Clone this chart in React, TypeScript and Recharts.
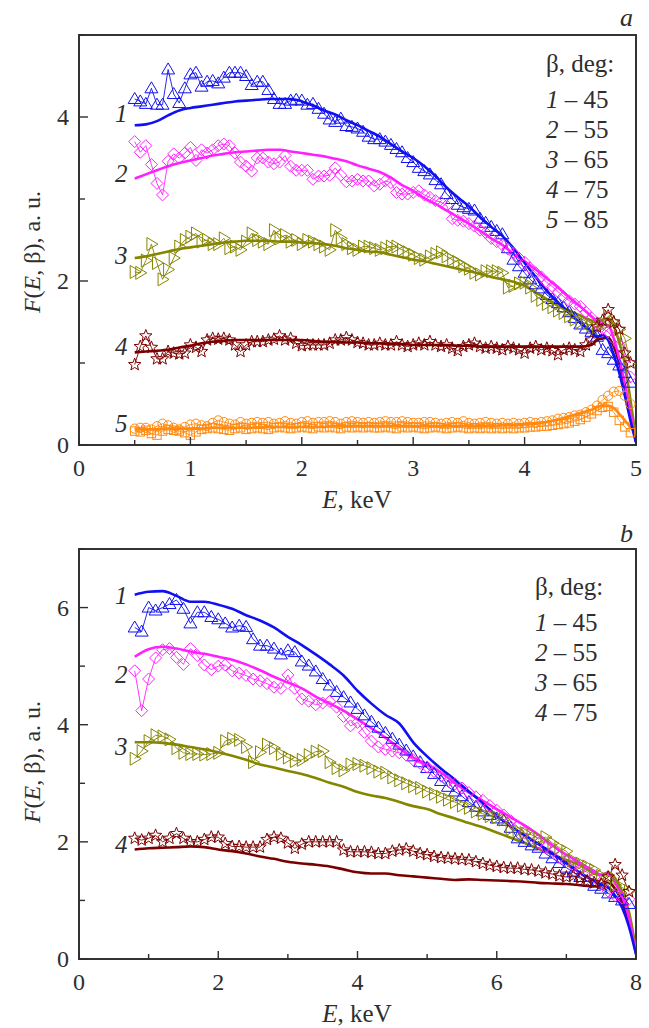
import React from 'react';
import { LineChart, Line, XAxis, YAxis, ReferenceArea } from 'recharts';

const FONT = '"Liberation Serif", "Times New Roman", serif';
const INK = '#2e2e2e';

// ---------- Panel a (E up to 5 keV) ----------
const E_A = [0.5,0.55,0.6,0.65,0.7,0.75,0.8,0.85,0.9,0.95,1.0,1.05,1.1,1.15,1.2,1.25,1.3,1.35,1.4,1.45,1.5,1.55,1.6,1.65,1.7,1.75,1.8,1.85,1.9,1.95,2.0,2.05,2.1,2.15,2.2,2.25,2.3,2.35,2.4,2.45,2.5,2.55,2.6,2.65,2.7,2.75,2.8,2.85,2.9,2.95,3.0,3.05,3.1,3.15,3.2,3.25,3.3,3.35,3.4,3.45,3.5,3.55,3.6,3.65,3.7,3.75,3.8,3.85,3.9,3.95,4.0,4.05,4.1,4.15,4.2,4.25,4.3,4.35,4.4,4.45,4.5,4.55,4.6,4.65,4.7,4.75,4.8,4.85,4.9,4.95];

const A1_MEAS = [4.22,4.19,4.16,4.35,4.15,4.15,4.58,4.28,4.17,4.35,4.52,4.54,4.37,4.43,4.44,4.41,4.48,4.54,4.54,4.54,4.50,4.39,4.43,4.43,4.33,4.22,4.16,4.16,4.20,4.21,4.20,4.15,4.16,4.10,4.04,3.97,3.94,3.98,3.89,3.88,3.86,3.82,3.76,3.73,3.73,3.70,3.66,3.61,3.57,3.50,3.45,3.38,3.34,3.30,3.23,3.18,3.06,3.00,2.93,2.90,2.88,2.86,2.76,2.71,2.66,2.61,2.57,2.40,2.26,2.18,2.10,2.02,1.96,1.91,1.83,1.78,1.73,1.68,1.62,1.55,1.47,1.42,1.38,1.32,1.16,1.12,1.04,0.97,0.88,0.76];
const A2_MEAS = [3.70,3.57,3.65,3.42,3.19,3.05,3.46,3.55,3.50,3.56,3.63,3.47,3.60,3.56,3.60,3.65,3.67,3.65,3.56,3.45,3.40,3.34,3.50,3.50,3.45,3.43,3.45,3.53,3.40,3.35,3.35,3.35,3.24,3.28,3.28,3.29,3.38,3.29,3.21,3.22,3.24,3.22,3.22,3.16,3.18,3.22,3.20,3.08,3.06,3.06,3.08,3.10,3.05,3.02,2.98,2.96,2.92,2.76,2.74,2.73,2.70,2.67,2.62,2.59,2.52,2.48,2.44,2.39,2.34,2.28,2.23,2.16,2.10,2.05,1.98,1.93,1.87,1.81,1.76,1.72,1.69,1.62,1.55,1.49,1.42,1.38,1.30,1.22,1.04,0.83];
const A3_MEAS = [2.11,2.10,2.25,2.45,2.22,2.02,2.14,2.28,2.42,2.50,2.54,2.58,2.48,2.50,2.45,2.45,2.52,2.40,2.42,2.38,2.48,2.58,2.50,2.48,2.45,2.62,2.52,2.56,2.48,2.50,2.45,2.50,2.48,2.45,2.42,2.38,2.62,2.52,2.45,2.40,2.38,2.42,2.42,2.40,2.38,2.40,2.42,2.42,2.38,2.35,2.32,2.28,2.26,2.30,2.33,2.35,2.30,2.26,2.23,2.18,2.15,2.10,2.08,2.12,2.12,2.12,2.10,1.92,1.94,1.97,1.98,1.92,1.82,1.77,1.72,1.68,1.64,1.61,1.57,1.53,1.50,1.48,1.46,1.44,1.46,1.57,1.50,1.41,1.30,1.00];
const A4_MEAS = [0.98,1.20,1.33,1.19,1.05,1.05,1.14,1.12,1.11,1.12,1.22,1.19,1.14,1.28,1.30,1.29,1.30,1.28,1.22,1.14,1.22,1.26,1.26,1.26,1.28,1.29,1.33,1.28,1.30,1.24,1.21,1.22,1.22,1.22,1.22,1.24,1.28,1.28,1.31,1.28,1.25,1.24,1.22,1.22,1.24,1.22,1.22,1.26,1.22,1.20,1.22,1.24,1.22,1.26,1.22,1.20,1.22,1.18,1.15,1.20,1.22,1.24,1.20,1.18,1.20,1.18,1.16,1.20,1.18,1.16,1.12,1.18,1.20,1.16,1.18,1.15,1.10,1.16,1.18,1.16,1.14,1.22,1.28,1.44,1.52,1.65,1.50,1.41,1.12,1.00];
const A5_MEAS_CIRCLES = [0.20,0.21,0.21,0.19,0.23,0.26,0.24,0.21,0.19,0.22,0.25,0.26,0.24,0.23,0.27,0.30,0.28,0.26,0.25,0.28,0.26,0.27,0.28,0.27,0.28,0.26,0.27,0.29,0.27,0.26,0.28,0.29,0.27,0.28,0.28,0.29,0.28,0.26,0.28,0.29,0.28,0.27,0.28,0.27,0.28,0.29,0.28,0.28,0.29,0.28,0.27,0.27,0.28,0.28,0.27,0.26,0.27,0.28,0.27,0.29,0.27,0.26,0.27,0.28,0.27,0.26,0.27,0.26,0.27,0.26,0.27,0.28,0.27,0.28,0.29,0.30,0.32,0.33,0.34,0.36,0.37,0.40,0.43,0.48,0.55,0.60,0.65,0.66,0.60,0.50];
const A5_MEAS_SQUARES = [0.17,0.16,0.18,0.14,0.12,0.17,0.19,0.18,0.17,0.15,0.12,0.16,0.19,0.20,0.21,0.20,0.19,0.18,0.20,0.21,0.19,0.20,0.21,0.20,0.19,0.21,0.22,0.21,0.20,0.21,0.22,0.21,0.20,0.22,0.21,0.22,0.21,0.20,0.22,0.21,0.22,0.21,0.22,0.21,0.21,0.22,0.21,0.20,0.22,0.21,0.22,0.21,0.20,0.21,0.22,0.21,0.20,0.21,0.22,0.21,0.20,0.21,0.20,0.21,0.20,0.21,0.20,0.21,0.20,0.21,0.21,0.22,0.22,0.23,0.23,0.24,0.25,0.26,0.27,0.29,0.31,0.34,0.38,0.42,0.46,0.47,0.40,0.30,0.22,0.15];

const FIT_E_A = [0.5,0.6,0.7,0.8,0.9,1.0,1.1,1.2,1.3,1.4,1.5,1.6,1.7,1.8,1.9,2.0,2.1,2.2,2.3,2.4,2.5,2.6,2.7,2.8,2.9,3.0,3.1,3.2,3.3,3.4,3.5,3.6,3.7,3.8,3.9,4.0,4.1,4.2,4.3,4.4,4.5,4.6,4.65,4.7,4.75,4.8,4.85,4.9,4.95,5.0];
const A1_FIT = [3.90,3.91,3.95,4.02,4.08,4.11,4.13,4.15,4.17,4.19,4.20,4.21,4.22,4.22,4.22,4.19,4.14,4.08,4.03,3.96,3.90,3.83,3.76,3.67,3.58,3.50,3.40,3.28,3.14,3.02,2.91,2.78,2.66,2.55,2.40,2.22,2.05,1.88,1.74,1.61,1.49,1.38,1.32,1.34,1.28,1.10,0.88,0.60,0.30,0.03];
const A2_FIT = [3.25,3.30,3.35,3.40,3.44,3.47,3.50,3.53,3.55,3.57,3.58,3.59,3.60,3.60,3.58,3.56,3.54,3.52,3.49,3.46,3.41,3.37,3.33,3.26,3.17,3.10,3.01,2.94,2.86,2.78,2.70,2.61,2.52,2.44,2.33,2.24,2.14,2.03,1.92,1.80,1.69,1.57,1.51,1.47,1.46,1.30,1.05,0.75,0.40,0.04];
const A3_FIT = [2.28,2.30,2.33,2.36,2.39,2.41,2.43,2.45,2.47,2.48,2.49,2.49,2.49,2.48,2.48,2.47,2.46,2.45,2.43,2.40,2.38,2.36,2.35,2.32,2.29,2.26,2.24,2.21,2.18,2.15,2.12,2.09,2.05,2.02,1.99,1.94,1.86,1.78,1.71,1.64,1.58,1.52,1.50,1.53,1.54,1.45,1.25,0.98,0.55,0.08];
const A4_FIT = [1.13,1.14,1.15,1.16,1.19,1.21,1.24,1.26,1.27,1.28,1.28,1.28,1.28,1.28,1.28,1.28,1.27,1.26,1.26,1.25,1.25,1.24,1.24,1.23,1.23,1.22,1.22,1.22,1.22,1.21,1.21,1.20,1.20,1.20,1.20,1.20,1.20,1.20,1.20,1.20,1.20,1.22,1.28,1.30,1.31,1.20,1.00,0.72,0.38,0.04];
const A5_FIT = [0.19,0.19,0.19,0.20,0.20,0.20,0.20,0.21,0.21,0.21,0.21,0.21,0.22,0.22,0.22,0.22,0.22,0.22,0.23,0.23,0.23,0.23,0.23,0.23,0.23,0.23,0.23,0.23,0.23,0.23,0.23,0.23,0.23,0.24,0.24,0.25,0.26,0.28,0.31,0.35,0.39,0.43,0.46,0.48,0.48,0.45,0.38,0.30,0.22,0.13];

// ---------- Panel b (E up to 8 keV) ----------
const E_B = [0.8,0.9,1.0,1.1,1.2,1.3,1.4,1.5,1.6,1.7,1.8,1.9,2.0,2.1,2.2,2.3,2.4,2.5,2.6,2.7,2.8,2.9,3.0,3.1,3.2,3.3,3.4,3.5,3.6,3.7,3.8,3.9,4.0,4.1,4.2,4.3,4.4,4.5,4.6,4.7,4.8,4.9,5.0,5.1,5.2,5.3,5.4,5.5,5.6,5.7,5.8,5.9,6.0,6.1,6.2,6.3,6.4,6.5,6.6,6.7,6.8,6.9,7.0,7.1,7.2,7.3,7.4,7.5,7.6,7.7,7.8,7.9];

const B1_MEAS = [5.66,5.59,6.00,5.95,6.00,6.06,6.13,5.98,5.73,5.92,5.92,5.84,5.80,5.73,5.66,5.69,5.67,5.46,5.35,5.35,5.30,5.20,5.27,5.24,5.08,5.01,4.91,4.78,4.67,4.56,4.47,4.38,4.27,4.16,4.05,3.95,3.86,3.76,3.66,3.56,3.46,3.36,3.26,3.16,3.04,2.94,2.86,2.78,2.68,2.60,2.52,2.46,2.40,2.36,2.24,2.06,2.00,1.94,1.90,1.80,1.72,1.64,1.56,1.48,1.40,1.33,1.25,1.20,1.12,1.06,1.00,0.94];
const B2_MEAS = [4.92,4.24,4.78,5.14,5.28,5.30,5.15,5.03,5.30,5.18,5.02,4.94,5.00,5.02,4.92,4.88,4.84,4.78,4.75,4.70,4.64,4.62,4.85,4.62,4.44,4.40,4.34,4.37,4.40,4.30,4.14,3.98,4.04,3.87,3.72,3.62,3.58,3.55,3.52,3.48,3.40,3.34,3.28,3.20,3.12,3.04,2.99,2.92,2.84,2.77,2.71,2.62,2.54,2.46,2.36,2.26,2.15,2.06,1.98,1.90,1.84,1.74,1.66,1.60,1.54,1.48,1.40,1.28,1.16,1.08,1.04,1.02];
const B3_MEAS = [3.42,3.55,3.72,3.82,3.80,3.75,3.60,3.52,3.50,3.50,3.49,3.50,3.52,3.72,3.76,3.74,3.62,3.36,3.53,3.66,3.60,3.50,3.44,3.38,3.40,3.48,3.54,3.55,3.36,3.26,3.22,3.32,3.33,3.30,3.26,3.20,3.18,3.10,3.05,3.00,2.95,2.92,2.86,2.82,2.77,2.72,2.68,2.62,2.58,2.52,2.48,2.44,2.42,2.38,2.22,2.18,2.15,2.12,2.05,2.08,1.98,1.90,1.84,1.68,1.63,1.58,1.52,1.42,1.36,1.26,1.22,1.16];
const B4_MEAS = [2.06,2.03,2.06,2.11,2.00,2.06,2.14,2.06,2.00,2.00,2.04,2.08,2.08,1.97,1.92,1.92,1.91,1.91,1.91,2.04,2.08,2.06,1.98,1.89,1.96,2.00,2.00,2.00,2.00,2.00,1.86,1.83,1.83,1.83,1.82,1.80,1.80,1.84,1.86,1.88,1.84,1.80,1.78,1.75,1.73,1.72,1.71,1.70,1.69,1.66,1.63,1.60,1.58,1.56,1.55,1.55,1.53,1.52,1.50,1.47,1.45,1.42,1.40,1.42,1.38,1.33,1.30,1.28,1.40,1.61,1.43,1.15];

const FIT_E_B = [0.8,1.0,1.2,1.4,1.6,1.8,2.0,2.2,2.4,2.6,2.8,3.0,3.2,3.4,3.6,3.8,4.0,4.2,4.4,4.6,4.8,5.0,5.2,5.4,5.6,5.8,6.0,6.2,6.4,6.6,6.8,7.0,7.2,7.4,7.5,7.6,7.7,7.8,7.9,8.0];
const B1_FIT = [6.22,6.27,6.28,6.20,6.10,6.10,6.05,5.98,5.87,5.78,5.66,5.50,5.36,5.20,5.03,4.84,4.58,4.36,4.17,4.02,3.70,3.46,3.25,3.06,2.86,2.66,2.45,2.27,2.11,1.96,1.80,1.63,1.47,1.33,1.27,1.22,1.08,0.88,0.55,0.08];
const B2_FIT = [5.16,5.29,5.33,5.30,5.25,5.21,5.16,5.11,5.03,4.93,4.82,4.72,4.62,4.48,4.36,4.24,4.09,3.94,3.78,3.60,3.44,3.32,3.18,3.00,2.84,2.70,2.56,2.42,2.28,2.12,1.94,1.78,1.64,1.50,1.44,1.46,1.30,1.08,0.70,0.08];
const B3_FIT = [3.70,3.70,3.69,3.66,3.62,3.58,3.53,3.47,3.40,3.32,3.27,3.21,3.16,3.09,3.01,2.94,2.85,2.79,2.75,2.68,2.61,2.56,2.47,2.40,2.32,2.25,2.16,2.07,1.98,1.88,1.79,1.69,1.60,1.46,1.43,1.48,1.38,1.15,0.80,0.15];
const B4_FIT = [1.87,1.89,1.90,1.91,1.92,1.91,1.87,1.84,1.80,1.75,1.71,1.66,1.63,1.61,1.58,1.53,1.48,1.46,1.46,1.43,1.41,1.39,1.37,1.35,1.36,1.35,1.34,1.33,1.32,1.30,1.29,1.28,1.26,1.24,1.26,1.30,1.20,0.98,0.62,0.18];

// ---------- ticks / labels ----------
const A_X_TICKS = [0,0.5,1,1.5,2,2.5,3,3.5,4,4.5,5];
const A_Y_TICKS = [0,1,2,3,4,5];
const B_X_TICKS = [0,1,2,3,4,5,6,7,8];
const B_Y_TICKS = [0,1,2,3,4,5,6,7];
const A_LEGEND = [['1','45'],['2','55'],['3','65'],['4','75'],['5','85']];
const B_LEGEND = [['1','45'],['2','55'],['3','65'],['4','75']];

const C_BLUE = '#1010f0';
const C_MAG = '#ff20ff';
const C_OLIVE = '#858500';
const C_RED = '#7a0000';
const C_ORANGE = '#ff8a10';

const zip = (xs: number[], ys: number[]) => xs.map((x, i) => ({ x, y: ys[i] }));

// plot geometry (chart-local)
const CH_W = 649;
const CH_H = 514;
const YAX_W = 50;
const XAX_H = 40;
const PL = 79;
const PT = 35;
const PR = 636;
const PB = 445;
const M = { top: PT, right: CH_W - PR, bottom: CH_H - PB - XAX_H, left: PL - YAX_W };

function Marker({ cx, cy, shape, color }: any) {
  const sw = 1;
  if (shape === 'triUp') {
    return <polygon points={`${cx},${cy - 6.5} ${cx - 6.5},${cy + 4.5} ${cx + 6.5},${cy + 4.5}`} fill="none" stroke={color} strokeWidth={sw} />;
  }
  if (shape === 'diamond') {
    return <polygon points={`${cx},${cy - 6} ${cx + 6},${cy} ${cx},${cy + 6} ${cx - 6},${cy}`} fill="none" stroke={color} strokeWidth={sw} />;
  }
  if (shape === 'triRight') {
    return <polygon points={`${cx - 4.5},${cy - 6.5} ${cx + 6.5},${cy} ${cx - 4.5},${cy + 6.5}`} fill="none" stroke={color} strokeWidth={sw} />;
  }
  if (shape === 'star') {
    const pts: string[] = [];
    for (let k = 0; k < 10; k++) {
      const r = k % 2 === 0 ? 6.5 : 2.8;
      const a = -Math.PI / 2 + (k * Math.PI) / 5;
      pts.push(`${cx + r * Math.cos(a)},${cy + r * Math.sin(a)}`);
    }
    return <polygon points={pts.join(' ')} fill="none" stroke={color} strokeWidth={sw} />;
  }
  if (shape === 'square') {
    return <rect x={cx - 4.2} y={cy - 4.2} width={8.4} height={8.4} fill="none" stroke={color} strokeWidth={sw} />;
  }
  return <circle cx={cx} cy={cy} r={4.6} fill="none" stroke={color} strokeWidth={sw} />;
}

const dotFn = (shape: string, color: string, id: string) => (p: any) => {
  if (p == null || p.cx == null || p.cy == null || isNaN(p.cx) || isNaN(p.cy)) {
    return <g key={`${id}-e-${p?.index}`} />;
  }
  return <Marker key={`${id}-${p.index}`} cx={p.cx} cy={p.cy} shape={shape} color={color} />;
};

function XTick(props: any) {
  const { x, payload, majorEvery } = props;
  const v = payload.value;
  const major = Math.abs(v / majorEvery - Math.round(v / majorEvery)) < 1e-6;
  return (
    <g>
      <line x1={x} x2={x} y1={PB} y2={PB - (major ? 8 : 5)} stroke={INK} strokeWidth={1.4} />
      {major && (
        <text x={x} y={PB + 31} textAnchor="middle" fontFamily={FONT} fontSize={24} fill={INK}>
          {v}
        </text>
      )}
    </g>
  );
}

function YTick(props: any) {
  const { y, payload, majorEvery } = props;
  const v = payload.value;
  const major = Math.abs(v / majorEvery - Math.round(v / majorEvery)) < 1e-6;
  return (
    <g>
      <line x1={PL} x2={PL + (major ? 9 : 6)} y1={y} y2={y} stroke={INK} strokeWidth={1.4} />
      {major && (
        <text x={PL - 10} y={y + 8} textAnchor="end" fontFamily={FONT} fontSize={24} fill={INK}>
          {v}
        </text>
      )}
    </g>
  );
}

type Meas = { id: string; data: { x: number; y: number }[]; shape: string; color: string };
type Fit = { id: string; data: { x: number; y: number }[]; color: string };

function Panel({ xMax, yMax, xTicks, yTicks, xMajor, yMajor, meas, fits }: {
  xMax: number; yMax: number; xTicks: number[]; yTicks: number[];
  xMajor: number; yMajor: number; meas: Meas[]; fits: Fit[];
}) {
  return (
    <LineChart width={CH_W} height={CH_H} margin={M}>
      <XAxis
        type="number"
        dataKey="x"
        domain={[0, xMax]}
        ticks={xTicks}
        interval={0}
        allowDataOverflow
        height={XAX_H}
        axisLine={false}
        tickLine={false}
        tick={<XTick majorEvery={xMajor} />}
      />
      <YAxis
        type="number"
        dataKey="y"
        domain={[0, yMax]}
        ticks={yTicks}
        interval={0}
        allowDataOverflow
        width={YAX_W}
        axisLine={false}
        tickLine={false}
        tick={<YTick majorEvery={yMajor} />}
      />
      {meas.map((m) => (
        <Line
          key={m.id}
          data={m.data}
          dataKey="y"
          type="linear"
          stroke={m.color}
          strokeWidth={0.9}
          dot={dotFn(m.shape, m.color, m.id)}
          activeDot={false}
          isAnimationActive={false}
        />
      ))}
      {fits.map((f) => (
        <Line
          key={f.id}
          data={f.data}
          dataKey="y"
          type="monotone"
          stroke={f.color}
          strokeWidth={2.6}
          dot={false}
          activeDot={false}
          isAnimationActive={false}
        />
      ))}
      <ReferenceArea x1={0} x2={xMax} y1={0} y2={yMax} fill="none" fillOpacity={0} stroke="#333" strokeWidth={2} ifOverflow="visible" />
    </LineChart>
  );
}

const T = { fontFamily: FONT, fill: INK } as const;

function Legend({ x, y0, items }: { x: number; y0: number; items: string[][] }) {
  return (
    <g>
      <text x={x} y={y0} fontSize={25} {...T}>β, deg:</text>
      {items.map((it, i) => (
        <text key={it[0]} x={x} y={y0 + 36 + i * 30} fontSize={25} {...T}>
          <tspan fontStyle="italic">{it[0]}</tspan>
          <tspan> – {it[1]}</tspan>
        </text>
      ))}
    </g>
  );
}

function YTitle({ cx, cy }: { cx: number; cy: number }) {
  return (
    <text x={cx} y={cy} fontSize={24} textAnchor="middle" transform={`rotate(-90 ${cx} ${cy})`} {...T}>
      <tspan fontStyle="italic">F</tspan>
      <tspan>(</tspan>
      <tspan fontStyle="italic">E</tspan>
      <tspan>, β), a. u.</tspan>
    </text>
  );
}

function XTitle({ cx, y }: { cx: number; y: number }) {
  return (
    <text x={cx} y={y} fontSize={25} textAnchor="middle" {...T}>
      <tspan fontStyle="italic">E</tspan>
      <tspan>, keV</tspan>
    </text>
  );
}

export default function App() {
  const measA: Meas[] = [
    { id: 'a1', data: zip(E_A, A1_MEAS), shape: 'triUp', color: C_BLUE },
    { id: 'a2', data: zip(E_A, A2_MEAS), shape: 'diamond', color: C_MAG },
    { id: 'a3', data: zip(E_A, A3_MEAS), shape: 'triRight', color: C_OLIVE },
    { id: 'a4', data: zip(E_A, A4_MEAS), shape: 'star', color: C_RED },
    { id: 'a5s', data: zip(E_A, A5_MEAS_SQUARES), shape: 'square', color: C_ORANGE },
    { id: 'a5c', data: zip(E_A, A5_MEAS_CIRCLES), shape: 'circle', color: C_ORANGE },
  ];
  const fitsA: Fit[] = [
    { id: 'fa5', data: zip(FIT_E_A, A5_FIT), color: C_ORANGE },
    { id: 'fa4', data: zip(FIT_E_A, A4_FIT), color: C_RED },
    { id: 'fa3', data: zip(FIT_E_A, A3_FIT), color: C_OLIVE },
    { id: 'fa2', data: zip(FIT_E_A, A2_FIT), color: C_MAG },
    { id: 'fa1', data: zip(FIT_E_A, A1_FIT), color: C_BLUE },
  ];
  const measB: Meas[] = [
    { id: 'b1', data: zip(E_B, B1_MEAS), shape: 'triUp', color: C_BLUE },
    { id: 'b2', data: zip(E_B, B2_MEAS), shape: 'diamond', color: C_MAG },
    { id: 'b3', data: zip(E_B, B3_MEAS), shape: 'triRight', color: C_OLIVE },
    { id: 'b4', data: zip(E_B, B4_MEAS), shape: 'star', color: C_RED },
  ];
  const fitsB: Fit[] = [
    { id: 'fb4', data: zip(FIT_E_B, B4_FIT), color: C_RED },
    { id: 'fb3', data: zip(FIT_E_B, B3_FIT), color: C_OLIVE },
    { id: 'fb2', data: zip(FIT_E_B, B2_FIT), color: C_MAG },
    { id: 'fb1', data: zip(FIT_E_B, B1_FIT), color: C_BLUE },
  ];

  const seriesLabelsA = [['1', 122], ['2', 182], ['3', 264], ['4', 355], ['5', 432]];
  const seriesLabelsB = [['1', 604], ['2', 683], ['3', 755], ['4', 853]];

  return (
    <div style={{ position: 'absolute', left: 0, top: 0, width: 649, height: 1028, background: '#fff', overflow: 'hidden' }}>
      <div style={{ position: 'absolute', left: 0, top: 0 }}>
        <Panel xMax={5} yMax={5} xTicks={A_X_TICKS} yTicks={A_Y_TICKS}
          xMajor={1} yMajor={2} meas={measA} fits={fitsA} />
      </div>
      <div style={{ position: 'absolute', left: 0, top: 514 }}>
        <Panel xMax={8} yMax={7} xTicks={B_X_TICKS} yTicks={B_Y_TICKS}
          xMajor={2} yMajor={2} meas={measB} fits={fitsB} />
      </div>
      <svg width={649} height={1028} style={{ position: 'absolute', left: 0, top: 0, pointerEvents: 'none' }}>
        <text x={620} y={26} fontSize={26} fontStyle="italic" {...T}>a</text>
        <text x={620} y={542} fontSize={26} fontStyle="italic" {...T}>b</text>
        <Legend x={546} y0={72} items={A_LEGEND} />
        <Legend x={535} y0={595} items={B_LEGEND} />
        {seriesLabelsA.map(([t, y]) => (
          <text key={`la${t}`} x={115} y={y as number} fontSize={25} fontStyle="italic" {...T}>{t}</text>
        ))}
        {seriesLabelsB.map(([t, y]) => (
          <text key={`lb${t}`} x={115} y={y as number} fontSize={25} fontStyle="italic" {...T}>{t}</text>
        ))}
        <XTitle cx={357} y={508} />
        <XTitle cx={357} y={1022} />
        <YTitle cx={40} cy={252} />
        <YTitle cx={40} cy={762} />
      </svg>
    </div>
  );
}
